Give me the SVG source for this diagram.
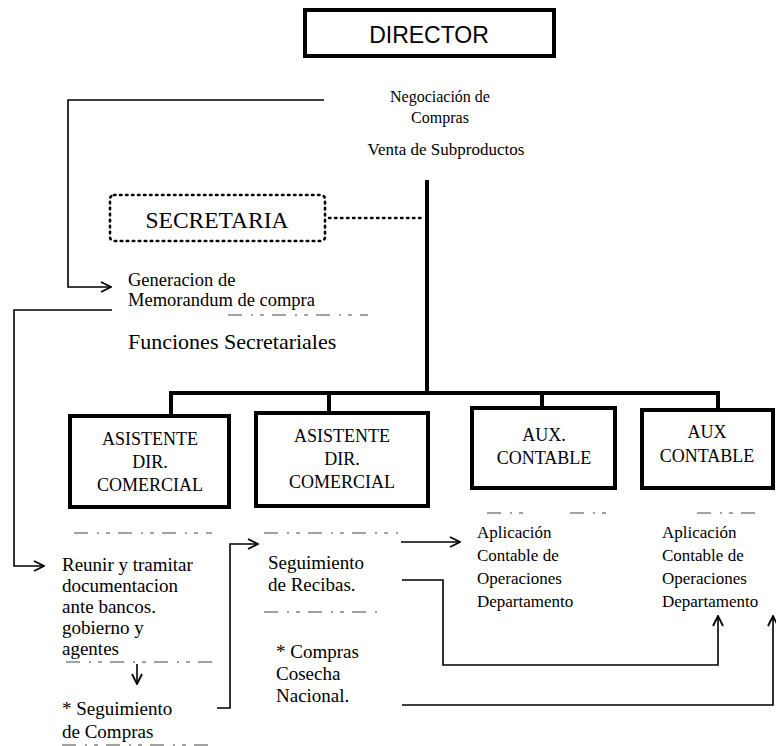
<svg xmlns="http://www.w3.org/2000/svg" width="776" height="746" viewBox="0 0 776 746">
  <defs>
    <style>
      .bg { fill: #ffffff; }
      .box { fill: #ffffff; stroke: #000; stroke-width: 4; }
      .dotbox { fill: none; stroke: #000; stroke-width: 2.6; stroke-dasharray: 1.5 4.5; stroke-linecap: round; }
      .thick { fill: none; stroke: #000; stroke-width: 4; }
      .dots { fill: none; stroke: #000; stroke-width: 2.4; stroke-dasharray: 1.5 4.5; stroke-linecap: round; }
      .faint { fill: none; stroke: #444; stroke-width: 1.1; stroke-dasharray: 14 9 2 7 4 8; }
      .arrow { fill: none; stroke: #000; stroke-width: 1.6; marker-end: url(#open); }
      .sans { font-family: "Liberation Sans", Arial, sans-serif; fill: #000; }
      .serif { font-family: "Liberation Serif", "Times New Roman", serif; fill: #000; }
      .mid { text-anchor: middle; }
    </style>
    <marker id="open" viewBox="0 0 12 12" refX="11" refY="6" markerWidth="12" markerHeight="12" markerUnits="userSpaceOnUse" orient="auto">
      <path d="M1,1 L11,6 L1,11" fill="none" stroke="#000" stroke-width="1.8"/>
    </marker>
  </defs>

  <rect class="bg" x="0" y="0" width="776" height="746"/>

  <!-- connectors -->
  <g id="connectors">
    <!-- director trunk and bus to the four posts -->
    <path class="thick" d="M427,180 V393"/>
    <path class="thick" d="M171,416 V393 H718 V410"/>
    <path class="thick" d="M329,393 V413"/>
    <path class="thick" d="M542,393 V408"/>
    <!-- secretaria dotted link -->
    <path class="dots" d="M329,218 H424"/>
    <!-- purchase negotiation to memorandum -->
    <path class="arrow" d="M324,100 H68 V287 H111"/>
    <!-- memorandum to bank paperwork -->
    <path class="arrow" d="M112,310 H14 V566 H44"/>
    <!-- follow-up of purchases to follow-up of receipts -->
    <path class="arrow" d="M217,708 H230 V544 H258"/>
    <!-- receipts to accounting -->
    <path class="arrow" d="M401,542 H460"/>
    <path class="arrow" d="M402,580 H443 V665 H718 V616"/>
    <path class="arrow" d="M402,705 H773 V616"/>
    <!-- bank paperwork down to follow-up -->
    <path class="arrow" d="M137,664 V684"/>
  </g>

  <!-- separator marks -->
  <g id="separators">
    <path class="faint" d="M228,315 H368"/>
    <path class="faint" d="M74,533 H212"/>
    <path class="faint" d="M264,533 H398"/>
    <path class="faint" d="M264,612 H382"/>
    <path class="faint" d="M66,662 H216"/>
    <path class="faint" d="M487,513 H527 M570,513 H607"/>
    <path class="faint" d="M697,513 H760"/>
    <path class="faint" d="M62,745 H214"/>
  </g>

  <g id="director">
    <rect class="box" x="305" y="10" width="249" height="46" stroke-width="3.5"/>
    <text class="sans mid" x="429" y="43" font-size="23">DIRECTOR</text>
  </g>

  <g id="director-functions">
    <text class="serif mid" font-size="16"><tspan x="440" y="102">Negociación de</tspan><tspan x="440" y="123">Compras</tspan></text>
    <text class="serif mid" x="446" y="155" font-size="17">Venta de Subproductos</text>
  </g>

  <g id="secretaria">
    <rect class="dotbox" x="110" y="195" width="215" height="46" rx="4"/>
    <text class="serif mid" x="217" y="228" font-size="23.5">SECRETARIA</text>
  </g>

  <g id="secretaria-functions">
    <text class="serif" font-size="18.5"><tspan x="128" y="286">Generacion de</tspan><tspan x="128" y="306">Memorandum de compra</tspan></text>
    <text class="serif" x="128" y="349" font-size="22">Funciones  Secretariales</text>
  </g>

  <g id="asistente-1">
    <rect class="box" x="70" y="416" width="159" height="91"/>
    <text class="serif mid" font-size="18"><tspan x="150" y="445">ASISTENTE</tspan><tspan x="150" y="468">DIR.</tspan><tspan x="150" y="491">COMERCIAL</tspan></text>
  </g>

  <g id="asistente-2">
    <rect class="box" x="256" y="413" width="172" height="93"/>
    <text class="serif mid" font-size="18"><tspan x="342" y="442">ASISTENTE</tspan><tspan x="342" y="465">DIR.</tspan><tspan x="342" y="488">COMERCIAL</tspan></text>
  </g>

  <g id="aux-contable-1">
    <rect class="box" x="472" y="408" width="143" height="80"/>
    <text class="serif mid" font-size="18"><tspan x="544" y="441">AUX.</tspan><tspan x="544" y="464">CONTABLE</tspan></text>
  </g>

  <g id="aux-contable-2">
    <rect class="box" x="642" y="410" width="131" height="78"/>
    <text class="serif mid" font-size="18"><tspan x="707" y="438">AUX</tspan><tspan x="707" y="462">CONTABLE</tspan></text>
  </g>

  <g id="asistente-1-functions">
    <text class="serif" font-size="19"><tspan x="62" y="571">Reunir y tramitar</tspan><tspan x="62" y="592">documentacion</tspan><tspan x="62" y="613">ante bancos.</tspan><tspan x="62" y="634">gobierno y</tspan><tspan x="62" y="655">agentes</tspan></text>
    <text class="serif" font-size="19"><tspan x="62" y="715">*  Seguimiento</tspan><tspan x="62" y="738">de Compras</tspan></text>
  </g>

  <g id="asistente-2-functions">
    <text class="serif" font-size="19"><tspan x="268" y="569">Seguimiento</tspan><tspan x="268" y="591">de Recibas.</tspan></text>
    <text class="serif" font-size="19"><tspan x="276" y="658">*  Compras</tspan><tspan x="276" y="680">Cosecha</tspan><tspan x="276" y="702">Nacional.</tspan></text>
  </g>

  <g id="aux-contable-1-functions">
    <text class="serif" font-size="17"><tspan x="477" y="538">Aplicación</tspan><tspan x="477" y="561">Contable de</tspan><tspan x="477" y="584">Operaciones</tspan><tspan x="477" y="607">Departamento</tspan></text>
  </g>

  <g id="aux-contable-2-functions">
    <text class="serif" font-size="17"><tspan x="662" y="538">Aplicación</tspan><tspan x="662" y="561">Contable de</tspan><tspan x="662" y="584">Operaciones</tspan><tspan x="662" y="607">Departamento</tspan></text>
  </g>
</svg>
